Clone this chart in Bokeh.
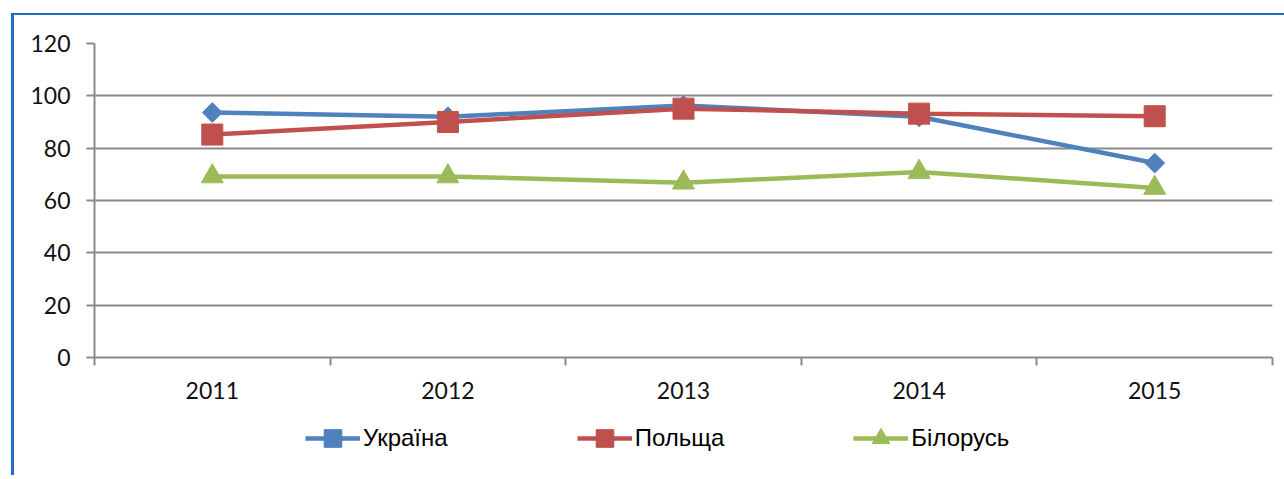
import math
from bokeh.plotting import figure
from bokeh.layouts import column
from bokeh.models import FixedTicker, Legend, LegendItem
from bokeh.embed import file_html
from bokeh.resources import INLINE

years = ["2011", "2012", "2013", "2014", "2015"]
ukraine = [93.6, 92.0, 96.3, 92.0, 74.3]
poland = [85.2, 90.0, 95.1, 93.2, 92.2]
belarus = [69.2, 69.2, 66.8, 70.9, 64.8]
y_ticks = [0, 20, 40, 60, 80, 100, 120]

series_names = ["Україна", "Польща", "Білорусь"]
series_values = [ukraine, poland, belarus]
colors = ["#4F81BD", "#C0504D", "#9BBB59"]
markers = ["square", "square", "triangle"]
marker_sizes = [14, 21, 22]
marker_angles = [math.pi / 4, 0, 0]

centers = [i + 0.5 for i in range(len(years))]
bounds = [float(i) for i in range(len(years) + 1)]
border_col = "#1F6FBF"

p = figure(frame_width=1175, frame_height=312, output_backend="svg", toolbar_location=None,
           x_range=(0, len(years)), y_range=(y_ticks[0], y_ticks[-1]),
           min_border_left=80, min_border_right=15, min_border_top=28, min_border_bottom=60)
p.outline_line_color = None
p.background_fill_color = "white"
p.border_fill_color = "white"
p.styles = {"border-left": "3px solid " + border_col, "border-top": "2px solid " + border_col,
            "margin-left": "11px", "margin-top": "13px"}

grid_col = "#898989"
p.xgrid.visible = False
p.ygrid.ticker = FixedTicker(ticks=y_ticks)
p.ygrid.grid_line_color = grid_col
p.ygrid.grid_line_width = 2

lab_font = "Lato"
lab_size = "23px"

p.yaxis.ticker = FixedTicker(ticks=y_ticks)
p.yaxis.axis_line_color = grid_col
p.yaxis.axis_line_width = 2
p.yaxis.major_tick_line_color = grid_col
p.yaxis.major_tick_line_width = 2
p.yaxis.major_tick_out = 8
p.yaxis.major_tick_in = 0
p.yaxis.minor_tick_line_color = None
p.yaxis.major_label_standoff = 16
p.yaxis.major_label_text_font = lab_font
p.yaxis.major_label_text_font_size = lab_size
p.yaxis.major_label_text_color = "#111111"

p.xaxis.ticker = FixedTicker(ticks=centers, minor_ticks=bounds)
p.xaxis.major_label_overrides = {c: y for c, y in zip(centers, years)}
p.xaxis.axis_line_color = grid_col
p.xaxis.axis_line_width = 2
p.xaxis.major_tick_line_color = None
p.xaxis.major_tick_out = 0
p.xaxis.major_tick_in = 0
p.xaxis.minor_tick_line_color = grid_col
p.xaxis.minor_tick_line_width = 2
p.xaxis.minor_tick_out = 8
p.xaxis.minor_tick_in = 0
p.xaxis.major_label_standoff = 16
p.xaxis.major_label_text_font = lab_font
p.xaxis.major_label_text_font_size = lab_size
p.xaxis.major_label_text_color = "#111111"

# legend strip below the chart
leg = figure(width=1270, height=60, output_backend="svg", toolbar_location=None,
             x_range=(100, 101), y_range=(100, 101),
             x_axis_location=None, y_axis_location=None,
             min_border_left=0, min_border_right=0, min_border_top=0, min_border_bottom=0)
leg.outline_line_color = None
leg.grid.visible = False
leg.background_fill_color = "white"
leg.border_fill_color = "white"
leg.styles = {"border-left": "3px solid " + border_col, "margin-left": "11px"}

items = []
for name, vals, col, mk, ms, ang in zip(series_names, series_values, colors, markers, marker_sizes, marker_angles):
    p.line(centers, vals, line_color=col, line_width=4.5)
    p.scatter(centers, vals, marker=mk, size=ms, angle=ang, fill_color=col, line_color=col)
    ln = leg.line(centers, vals, line_color=col, line_width=4.5)
    sc = leg.scatter(centers, vals, marker=mk, size=ms, angle=ang, fill_color=col, line_color=col)
    items.append(LegendItem(label=name, renderers=[ln, sc]))

legend = Legend(items=items, orientation="horizontal", location=(211, 15),
                glyph_width=55, glyph_height=44, label_standoff=3, spacing=129,
                padding=0, margin=0, border_line_color=None, background_fill_alpha=0,
                label_text_font="Liberation Sans", label_text_font_size="24px",
                label_text_color="#000000")
leg.add_layout(legend, "center")

layout = column(p, leg, spacing=0)
open("out.html", "w").write(file_html(layout, INLINE))
